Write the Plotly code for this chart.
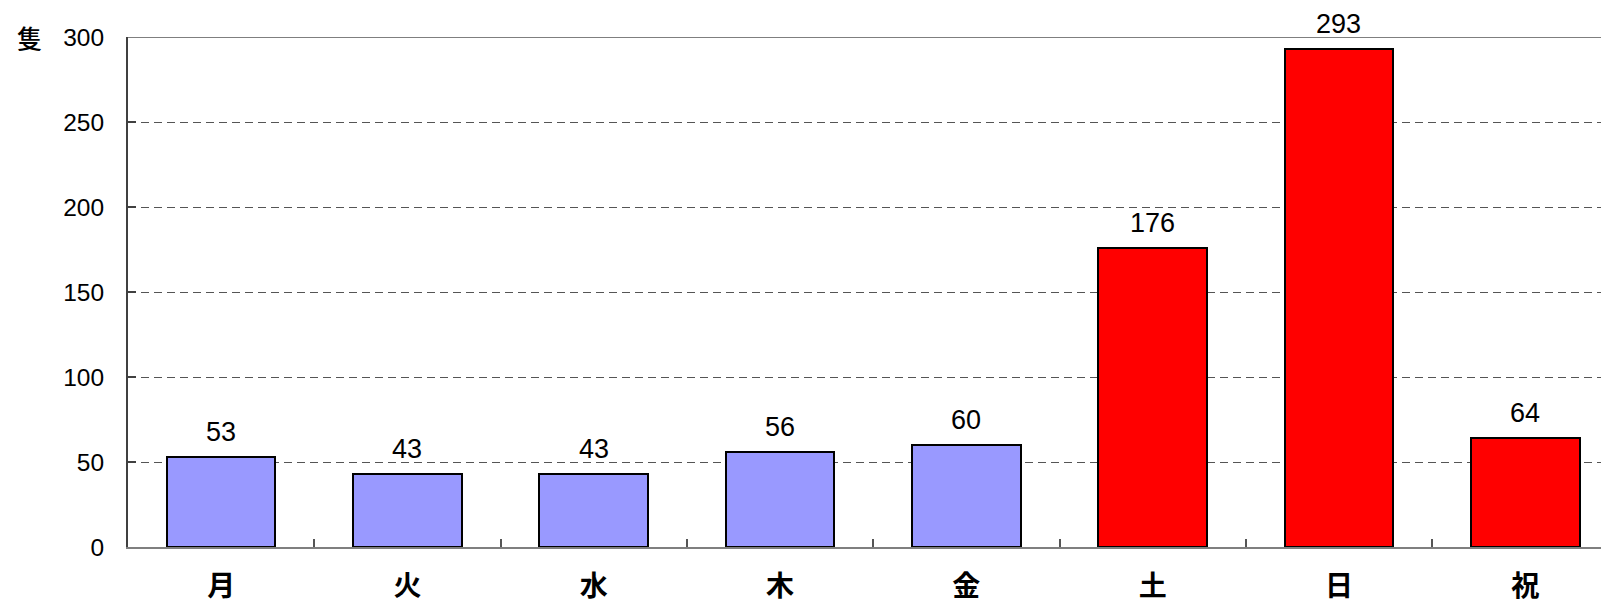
import plotly.graph_objects as go

# Weekday / holiday counts
days = ["月", "火", "水", "木", "金", "土", "日", "祝"]
counts = [53, 43, 43, 56, 60, 176, 293, 64]
bar_colors = ["#9999FF"] * 5 + ["#FF0000"] * 3
y_ticks = [0, 50, 100, 150, 200, 250, 300]
unit_label = "隻"

W, H = 1601, 606
left, top, bottom = 128, 37, 59
cat_px = 186.3
plot_w = W - left
x_max = -0.5 + plot_w / cat_px

num_font = "Liberation Sans, Arial, sans-serif"
cjk_font = "Noto Sans CJK JP, sans-serif"

fig = go.Figure()
fig.add_trace(go.Bar(
    x=days,
    y=counts,
    width=0.583,
    marker=dict(color=bar_colors, line=dict(color="#000000", width=2)),
    hoverinfo="skip",
))

# Value labels above each bar
for d, v in zip(days, counts):
    fig.add_annotation(
        x=d, y=v, text=str(v), showarrow=False,
        xref="x", yref="y", yanchor="bottom", yshift=8,
        font=dict(family=num_font, size=27, color="#000000"),
    )

# Unit label at top-left
fig.add_annotation(
    x=(29 - left) / plot_w, y=300, xref="paper", yref="y",
    text=unit_label, showarrow=False, xanchor="center", yanchor="middle",
    font=dict(family=cjk_font, size=25, color="#000000", weight=500),
)

# Solid top frame line at the axis maximum
fig.add_shape(
    type="line", xref="paper", yref="y", x0=0, x1=1, y0=300, y1=300,
    line=dict(color="#7f7f7f", width=2), layer="above",
)

fig.update_layout(
    width=W, height=H,
    margin=dict(l=left, r=0, t=top, b=bottom, pad=0, autoexpand=False),
    plot_bgcolor="#ffffff", paper_bgcolor="#ffffff",
    showlegend=False,
    bargap=0,
)
fig.update_xaxes(
    type="category", automargin=False,
    range=[-0.5, x_max],
    tickson="boundaries", ticks="inside", ticklen=8, tickwidth=1.5, tickcolor="#555555",
    showline=True, linecolor="#7f7f7f", linewidth=2,
    showgrid=False, zeroline=False,
    tickfont=dict(family=cjk_font, size=28, color="#000000", weight="bold"),
    ticklabelstandoff=13,
)
fig.update_yaxes(
    automargin=False,
    range=[0, 300], tickmode="array", tickvals=y_ticks,
    ticks="inside", ticklen=8, tickwidth=1.5, tickcolor="#404040",
    showline=True, linecolor="#404040", linewidth=2,
    showgrid=True, gridcolor="#555555", gridwidth=1, griddash="8px,5px",
    zeroline=False,
    tickfont=dict(family=num_font, size=24.5, color="#000000"),
    ticklabelstandoff=17,
)

fig.write_html("out.html")
